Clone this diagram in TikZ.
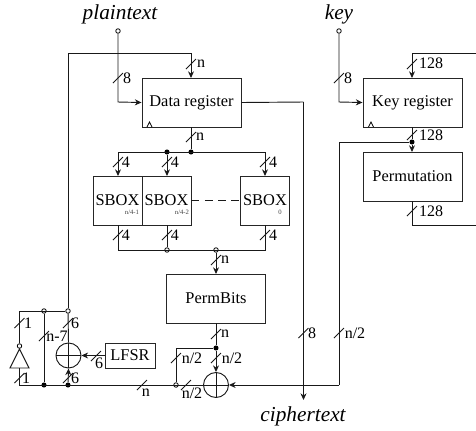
\documentclass[tikz,border=0pt]{standalone}
\usepackage{fontspec}
\setmainfont{Liberation Serif}
\usetikzlibrary{arrows.meta}
\newcommand{\busmark}[3]{%
  \coordinate (#1) at (#2,#3);
  \draw[wire] ([xshift=-3.75pt,yshift=-3.75pt]#1) -- ([xshift=3.75pt,yshift=3.75pt]#1);
}
\newcommand{\buslabel}[4]{\node[lab] (#1) at (#2,#3) {#4};}
\tikzset{
  wire/.style={line width=0.7pt,draw=black!90},
  arr/.style={wire,-{Stealth[length=5pt,width=4.5pt]}},
  blk/.style={draw=black!85,line width=0.7pt,fill=white,inner sep=0pt,font=\fontsize{12.3}{14}\selectfont},
  lab/.style={inner sep=0pt,font=\fontsize{12}{14}\selectfont},
  title/.style={inner sep=0pt,font=\fontsize{16}{18}\selectfont\itshape},
  tiny/.style={inner sep=0pt,font=\fontsize{5}{6}\selectfont,text=black!75},
  opendot/.style={circle,draw=black,fill=white,line width=0.6pt,minimum size=3.4pt,inner sep=0pt},
  fulldot/.style={circle,fill=black,minimum size=3.8pt,inner sep=0pt},
  xorc/.style={circle,draw=black!90,line width=0.7pt,minimum size=18.75pt,inner sep=0pt,fill=white},
}
\begin{document}
\begin{tikzpicture}[x=0.75pt,y=-0.75pt]
\useasboundingbox (0,0) rectangle (476,430);
% blocks
\node[blk,minimum width=74.25pt,minimum height=36.75pt] (dr) at (191.5,102.5) {Data register};
\node[blk,minimum width=74.25pt,minimum height=36.75pt] (kr) at (412.5,102.5) {Key register};
\node[blk,minimum width=74.25pt,minimum height=36.75pt] (pm) at (412.5,176.5) {Permutation};
\node[blk,minimum width=36.75pt,minimum height=36.75pt] (s1) at (117.5,200.5) {SBOX};
\node[blk,minimum width=36.75pt,minimum height=36.75pt] (s2) at (166.5,200.5) {SBOX};
\node[blk,minimum width=36.75pt,minimum height=36.75pt] (s3) at (265,200.5) {SBOX};
\node[blk,minimum width=74.25pt,minimum height=36.75pt] (pb) at (216,298.5) {PermBits};
\node[blk,minimum width=37.5pt,minimum height=18.75pt] (lf) at (130,355.5) {LFSR};
\node[tiny] (t1) at (132,212) {n/4-1};
\node[tiny] (t2) at (182,212) {n/4-2};
\node[tiny] (t3) at (280,212) {0};
\node[xorc] (x1) at (216,385) {};
\node[xorc] (x2) at (68.5,355.5) {};
\draw[wire] (x1.north) -- (x1.south) (x1.west) -- (x1.east);
\draw[wire] (x2.north) -- (x2.south) (x2.west) -- (x2.east);
% inverter
\coordinate (ia) at (19.5,349);
\coordinate (ib) at (10,368);
\coordinate (ic) at (29,368);
\coordinate (im) at (19.5,368);
\draw[wire] (ia) -- (ib) -- (ic) -- cycle;
% clock triangles
\draw[line width=0.6pt] (147,127) -- (149.5,122) -- (152,127);
\draw[line width=0.6pt] (368.5,127) -- (371,122) -- (373.5,127);
% titles
\node[title] (pt) at (120,14) {plaintext};
\node[title] (ky) at (339,14) {key};
\node[title] (ct) at (303,416) {ciphertext};
% junctions
\node[opendot] (ip) at (118,31) {};
\node[opendot] (ik) at (339,31) {};
\node[fulldot] (j1) at (191,152) {};
\node[fulldot] (j2) at (167,152) {};
\node[opendot] (j3) at (167,250) {};
\node[opendot] (j4) at (216,250) {};
\node[fulldot] (j5) at (216,348) {};
\node[opendot] (j6) at (176,385) {};
\node[fulldot] (j7) at (68,385) {};
\node[fulldot] (j8) at (44,385) {};
\node[opendot] (j9) at (68,311) {};
\node[opendot] (j10) at (44,311) {};
\node[opendot] (j11) at (19.5,346) {};
\node[fulldot] (j12) at (412,142) {};
\coordinate (c1) at (68,53);
\coordinate (c2) at (191,53);
\coordinate (c3) at (118,102);
\coordinate (c4) at (339,102);
\coordinate (c5) at (303.5,102);
\coordinate (c6) at (303.5,400);
\coordinate (c7) at (118,152);
\coordinate (c8) at (265,152);
\coordinate (c9) at (118,250);
\coordinate (c10) at (265,250);
\coordinate (c11) at (176,348);
\coordinate (c12) at (19.5,385);
\coordinate (c13) at (19.5,311);
\coordinate (c14) at (339,142);
\coordinate (c15) at (339,385);
\coordinate (c16) at (412,53);
\coordinate (c17) at (476,53);
\coordinate (c18) at (412,225);
\coordinate (c19) at (476,225);
% connectors
\draw[arr] (ip) -- (c3) -- (dr.west);
\draw[arr] (ik) -- (c4) -- (kr.west);
\draw[arr] (j9) -- (c1) -- (c2) -- (191,78);
\draw[wire] (dr.east) -- (c5);
\draw[arr] (c5) -- (c6);
\draw[wire] (191,127) -- (j1);
\draw[wire] (c7) -- (c8);
\draw[arr] (c7) -- (118,176);
\draw[arr] (j2) -- (167,176);
\draw[arr] (c8) -- (265,176);
\draw[wire] (118,225) -- (c9) -- (c10) -- (265,225);
\draw[wire] (167,225) -- (j3);
\draw[arr] (j4) -- (216,274);
\draw[wire,dash pattern=on 6pt off 4pt] (s2.east |- 0,200) -- (s3.west |- 0,200);
\draw[wire] (216,323) -- (j5);
\draw[arr] (j5) -- (x1.north);
\draw[wire] (j5) -- (c11) -- (j6);
\draw[wire] (x1.west) -- (c12) -- (im);
\draw[wire] (j11) -- (c13) -- (j9);
\draw[wire] (j10) -- (j8);
\draw[wire] (j9) -- (x2.north);
\draw[arr] (j7) -- (x2.south);
\draw[arr] (lf.west) -- (x2.east);
\draw[wire] (j12) -- (c14) -- (c15);
\draw[arr] (c15) -- (x1.east);
\draw[arr] (c17) -- (c16) -- (412,78);
\draw[wire] (412,127) -- (j12);
\draw[arr] (j12) -- (412,152);
\draw[wire] (412,201) -- (c18) -- (c19);
% bus marks
\busmark{m1}{118}{78} \buslabel{l1}{127}{78}{8}
\busmark{m2}{191}{64} \buslabel{l2}{201}{64}{n}
\busmark{m3}{191}{137} \buslabel{l3}{200}{137}{n}
\busmark{m4}{118}{162} \buslabel{l4}{126}{162}{4}
\busmark{m5}{167}{162} \buslabel{l5}{175}{162}{4}
\busmark{m6}{265}{162} \buslabel{l6}{273}{162}{4}
\busmark{m7}{118}{235} \buslabel{l7}{126}{235}{4}
\busmark{m8}{167}{235} \buslabel{l8}{175}{235}{4}
\busmark{m9}{265}{235} \buslabel{l9}{273}{235}{4}
\busmark{m10}{216}{260} \buslabel{l10}{225}{260}{n}
\busmark{m11}{216}{334} \buslabel{l11}{225}{334}{n}
\busmark{m12}{176}{358} \buslabel{l12}{192}{358}{n/2}
\busmark{m13}{216}{358} \buslabel{l13}{232}{358}{n/2}
\busmark{m14}{186}{385} \buslabel{l14}{192}{393}{n/2}
\busmark{m15}{142}{385} \buslabel{l15}{146}{393}{n}
\busmark{m16}{68}{323} \buslabel{l16}{75}{323}{6}
\busmark{m17}{44}{336} \buslabel{l17}{57}{336}{n-7}
\busmark{m18}{19.5}{323} \buslabel{l18}{28}{323}{1}
\busmark{m19}{19.5}{378} \buslabel{l19}{26}{378}{1}
\busmark{m20}{68}{378} \buslabel{l20}{75}{378}{6}
\busmark{m21}{96}{356} \buslabel{l21}{99}{363}{6}
\busmark{m22}{303.5}{333} \buslabel{l22}{312}{333}{8}
\busmark{m23}{339}{333} \buslabel{l23}{355}{333}{n/2}
\busmark{m24}{339}{78} \buslabel{l24}{348}{78}{8}
\busmark{m25}{412}{64} \buslabel{l25}{431}{63}{128}
\busmark{m26}{412}{135} \buslabel{l26}{431}{135}{128}
\busmark{m27}{412}{211} \buslabel{l27}{431}{211}{128}
\end{tikzpicture}
\end{document}
